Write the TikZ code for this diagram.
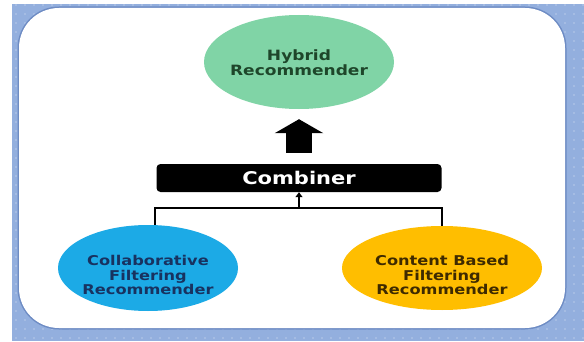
\documentclass[tikz,border=0pt]{standalone}
\usepackage{fontspec}
\usepackage{xcolor}
\usepackage{tikz}
\usetikzlibrary{shapes.geometric, arrows.meta}

\newfontfamily\lblfont[FakeStretch = 1.2]{DejaVu Sans}

\definecolor{backblue}{RGB}{147,175,222}
\definecolor{rimblue}{RGB}{110,140,196}
\definecolor{hybridgreen}{RGB}{128,212,166}
\definecolor{hybridtext}{RGB}{30,70,42}
\definecolor{collabblue}{RGB}{28,170,230}
\definecolor{collabtext}{RGB}{24,50,96}
\definecolor{contentgold}{RGB}{255,190,0}
\definecolor{contenttext}{RGB}{62,42,0}

\newcommand{\bubbletext}[2]{\raisebox{#1}[0pt][0pt]{\makebox[0pt]{\begin{tabular}{@{}c@{}}#2\end{tabular}}}}

\begin{document}
\begin{tikzpicture}[x = 1pt, y = 1pt,
		bubble/.style = {ellipse, inner sep = 0pt, font = \lblfont\bfseries\fontsize{13.5}{14.5}\selectfont},
		link/.style = {line width = 2pt}]
		\def\r{40};
		
		\useasboundingbox (0,0) rectangle (584,341);
		
		\fill [backblue] (12,0) rectangle (584,337);
		\foreach \x in {16,25,...,584}
			\foreach \y in {3,12,...,337}
				\fill [white, opacity = 0.35] (\x,\y) circle [radius = 0.8];
		
		\draw [rimblue, line width = 3pt, rounded corners = \r] (19,13) rectangle (565,333);
		\fill [white, rounded corners = \r] (19,13) rectangle (565,333);
		
		\node (hybrid) at (299,279) [bubble, fill = hybridgreen, text = hybridtext, minimum width = 190pt, minimum height = 94pt, font = \lblfont\bfseries\fontsize{14.2}{15}\selectfont] {\bubbletext{-6.3pt}{Hybrid\\Recommender}};
		
		\node (combiner) at (299,163) [rectangle, rounded corners = 4pt, fill = black, text = white, minimum width = 285pt, minimum height = 28pt, font = \lblfont\bfseries\fontsize{17.5}{20}\selectfont] {Combiner};
		
		\node (collab) at (148,73) [bubble, fill = collabblue, text = collabtext, minimum width = 180pt, minimum height = 86pt] {\bubbletext{-13pt}{Collaborative\\Filtering\\Recommender}};
		\node (content) at (442,73) [bubble, fill = contentgold, text = contenttext, minimum width = 200pt, minimum height = 84pt] {\bubbletext{-13pt}{Content Based\\Filtering\\Recommender}};
		
		\draw [line width = 26pt, -{Triangle[width = 48pt, length = 14pt]}, shorten < = 11pt, shorten > = 10pt] (combiner.north) -- (hybrid.south);
		
		\coordinate (join) at (299,133);
		\draw [link] ([xshift = 7pt]collab.north) |- (join) -| (content.north);
		\draw [link, -{Triangle[width = 7pt, length = 5pt]}] (join) -- (combiner.south);
	\end{tikzpicture}
\end{document}
